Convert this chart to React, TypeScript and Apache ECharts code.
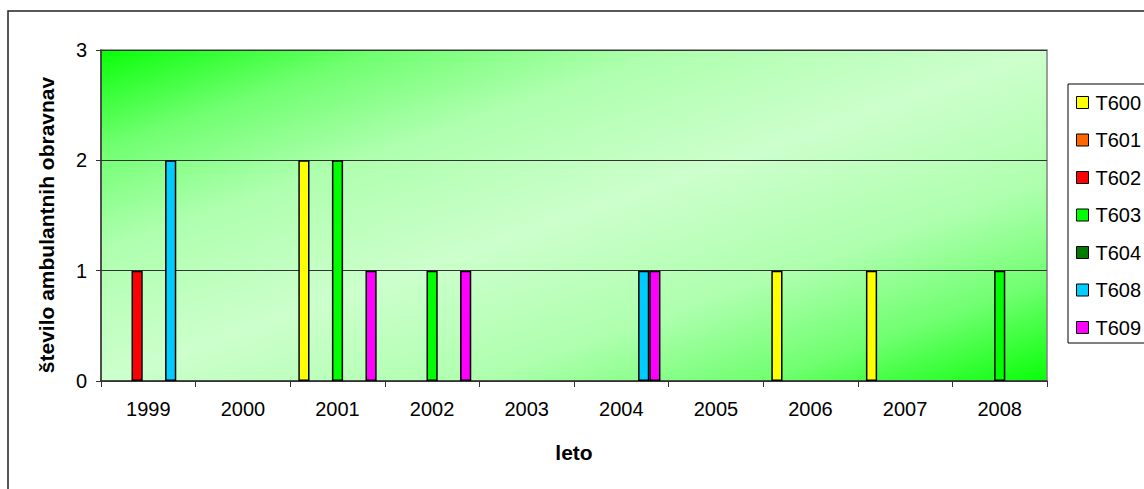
import React, { useEffect, useRef } from "react";
import * as echarts from "echarts";

const years = ["1999", "2000", "2001", "2002", "2003", "2004", "2005", "2006", "2007", "2008"];
const seriesNames = ["T600", "T601", "T602", "T603", "T604", "T608", "T609"];
const T600 = [0, 0, 2, 0, 0, 0, 0, 1, 1, 0];
const T601 = [0, 0, 0, 0, 0, 0, 0, 0, 0, 0];
const T602 = [1, 0, 0, 0, 0, 0, 0, 0, 0, 0];
const T603 = [0, 0, 2, 1, 0, 0, 0, 0, 0, 1];
const T604 = [0, 0, 0, 0, 0, 0, 0, 0, 0, 0];
const T608 = [2, 0, 0, 0, 0, 1, 0, 0, 0, 0];
const T609 = [0, 0, 1, 1, 0, 1, 0, 0, 0, 0];
const seriesValues = [T600, T601, T602, T603, T604, T608, T609];
const seriesColors = ["#FFFF00", "#FF6600", "#FF0000", "#00FF00", "#007A00", "#00CCFF", "#FF00FF"];
const yTicks = [0, 1, 2, 3];

const FONT = "'Liberation Sans', Arial, sans-serif";

export default function App() {
  const ref = useRef<HTMLDivElement>(null);
  useEffect(() => {
    if (!ref.current) return;
    const chart = echarts.init(ref.current, null, { renderer: "svg" });
    const gridLeft = 101, gridTop = 50, gridRight = 1047, gridBottom = 381;
    const cx = (gridLeft + gridRight) / 2, cy = (gridTop + gridBottom) / 2;
    const w = gridRight - gridLeft, h = gridBottom - gridTop;
    // gradient vector perpendicular to the anti-diagonal
    const dx = h, dy = w;
    const len = Math.sqrt(dx * dx + dy * dy);
    const ux = dx / len, uy = dy / len;
    const proj = Math.abs((-w / 2) * ux + (-h / 2) * uy);
    const bg = new echarts.graphic.LinearGradient(
      cx - proj * ux, cy - proj * uy, cx + proj * ux, cy + proj * uy,
      [
        { offset: 0, color: "#08FF08" },
        { offset: 0.15, color: "#70FF70" },
        { offset: 0.3, color: "#AEFFAE" },
        { offset: 0.5, color: "#CCFFCC" },
        { offset: 0.7, color: "#AEFFAE" },
        { offset: 0.85, color: "#70FF70" },
        { offset: 1, color: "#08FF08" },
      ],
      true
    );
    chart.setOption({
      animation: false,
      textStyle: { fontFamily: FONT },
      graphic: [
        {
          type: "rect",
          shape: { x: 8, y: 11, width: 1300, height: 700 },
          style: { fill: "none", stroke: "#222", lineWidth: 1.5 },
          silent: true,
          z: -10,
        },
        {
          type: "text",
          x: 46,
          y: 225,
          rotation: Math.PI / 2,
          style: {
            text: "število ambulantnih obravnav",
            font: `bold 21px ${FONT}`,
            fill: "#000",
            textAlign: "center",
            textVerticalAlign: "middle",
          },
        },
      ],
      grid: {
        left: gridLeft,
        top: gridTop,
        right: 1144 - gridRight,
        bottom: 489 - gridBottom,
        show: true,
        backgroundColor: bg,
        borderColor: "#808080",
        borderWidth: 1.5,
      },
      legend: {
        orient: "vertical",
        left: 1068,
        top: 84,
        data: seriesNames,
        icon: "rect",
        itemWidth: 12,
        itemHeight: 12,
        itemGap: 17.5,
        padding: [8.5, 40, 5.5, 8],
        borderColor: "#000",
        borderWidth: 1,
        textStyle: { fontSize: 20, color: "#000", fontFamily: FONT, padding: [0, 0, 0, 2] },
        itemStyle: { borderColor: "#000", borderWidth: 1 },
      },
      xAxis: {
        type: "category",
        data: years,
        name: "leto",
        nameLocation: "middle",
        nameGap: 61,
        nameTextStyle: { fontSize: 21, fontWeight: "bold", color: "#000", fontFamily: FONT },
        axisLine: { lineStyle: { color: "#333", width: 1.5 } },
        axisTick: { show: true, alignWithLabel: false, length: 6, lineStyle: { color: "#333" } },
        axisLabel: { fontSize: 20, color: "#000", margin: 18, fontFamily: FONT },
        splitLine: { show: false },
      },
      yAxis: {
        type: "value",
        min: yTicks[0],
        max: yTicks[yTicks.length - 1],
        interval: 1,
        axisLine: { show: true, lineStyle: { color: "#333", width: 1.5 } },
        axisTick: { show: true, length: 5, lineStyle: { color: "#333" } },
        axisLabel: { fontSize: 20, color: "#000", margin: 14, fontFamily: FONT },
        splitLine: { show: true, lineStyle: { color: "#333", width: 1 } },
      },
      series: seriesNames.map((name, i) => ({
        name,
        type: "bar",
        data: seriesValues[i].map((v) => (v === 0 ? "-" : v)),
        barGap: "0%",
        barCategoryGap: "17.2%",
        itemStyle: { color: seriesColors[i], borderColor: "#000", borderWidth: 1.5 },
      })),
    });
    return () => chart.dispose();
  }, []);
  return (
    <div
      ref={ref}
      style={{ position: "absolute", left: 0, top: 0, width: 1144, height: 489 }}
    />
  );
}
